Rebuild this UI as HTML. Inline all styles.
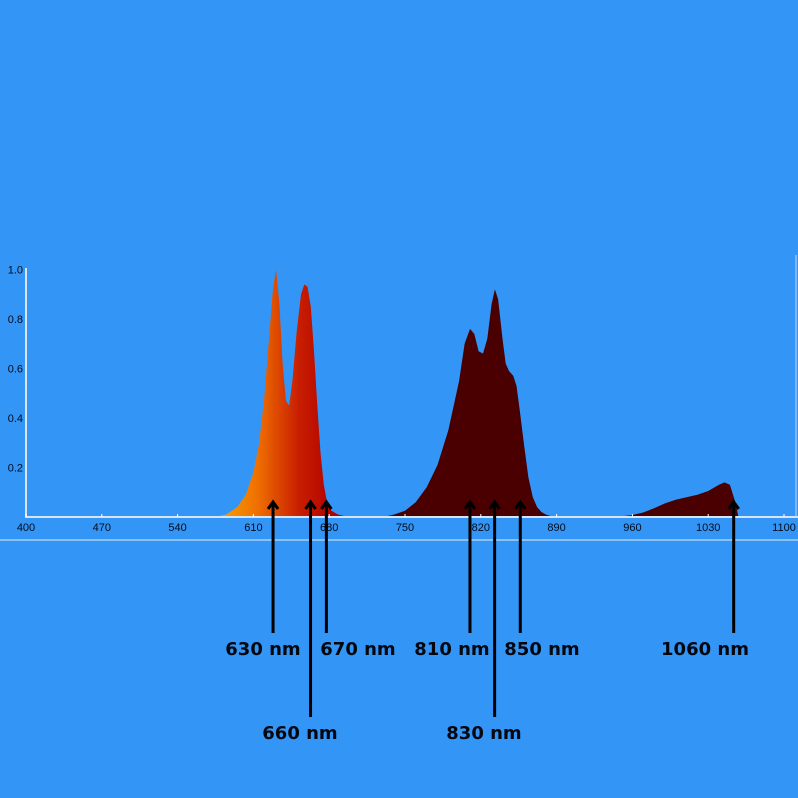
<!DOCTYPE html>
<html><head><meta charset="utf-8"><style>
body{margin:0;background:#3396f7;}
svg{display:block;font-family:"Liberation Sans",sans-serif;}
</style></head><body>
<svg id="c" width="798" height="798">
<defs>
<linearGradient id="g1" gradientUnits="userSpaceOnUse" x1="215" y1="0" x2="335" y2="0">
<stop offset="0" stop-color="#f7a800"/><stop offset="0.35" stop-color="#f07000"/><stop offset="0.7" stop-color="#c81e00"/><stop offset="1" stop-color="#b00000"/>
</linearGradient>
</defs>
</svg>
<script>
const redNm=[575,585,595,603,610,615,620,625,628,631,634,637,640,643,646,650,654,657,660,663,666,669,672,675,678,682,688,695,700];
const redVal=[0,0.01,0.04,0.09,0.18,0.29,0.48,0.75,0.92,1.0,0.86,0.62,0.47,0.45,0.55,0.75,0.9,0.94,0.93,0.85,0.67,0.45,0.26,0.13,0.06,0.025,0.01,0.003,0];
const nirNm=[730,740,750,760,770,780,790,800,805,810,814,818,822,826,830,833,836,840,843,846,850,853,856,860,864,868,872,876,880,885,890];
const nirVal=[0,0.01,0.025,0.06,0.12,0.21,0.35,0.55,0.7,0.76,0.74,0.67,0.66,0.72,0.86,0.92,0.88,0.72,0.62,0.59,0.57,0.53,0.43,0.29,0.16,0.08,0.04,0.02,0.01,0.003,0];
const ir2Nm=[945,960,970,980,990,1000,1010,1020,1030,1040,1045,1050,1055,1058];
const ir2Val=[0,0.008,0.018,0.035,0.055,0.07,0.08,0.09,0.105,0.13,0.14,0.13,0.06,0];
const xTicks=[400,470,540,610,680,750,820,890,960,1030,1100];
const yTicks=[0.2,0.4,0.6,0.8,1.0];
const markerNm=[630,660,670,810,830,850,1060];
const markerShift=[-2,3,8,0,3,7,-7];
const markerLabelX=[263,300,358,452,484,542,705];
const markerLow=[false,true,false,false,true,false,false];

const X=nm=>26+(nm-400)*75.8/70;
const Y=v=>517-v*247.5;
const svg=document.getElementById('c');
const NS='http://www.w3.org/2000/svg';
function mk(t,a){const e=document.createElementNS(NS,t);for(const k in a)e.setAttribute(k,a[k]);svg.appendChild(e);return e;}
function area(nm,val,fill,name){
  let d='M'+X(nm[0])+','+Y(0);
  nm.forEach((n,i)=>d+=' L'+X(n).toFixed(1)+','+Y(val[i]).toFixed(1));
  d+=' L'+X(nm[nm.length-1])+','+Y(0)+'Z';
  const p=mk('path',{d:d,fill:fill});
  
  
}
area(redNm,redVal,'url(#g1)','red-band-area');
area(nirNm,nirVal,'#4a0000','nir-band-area');
area(ir2Nm,ir2Val,'#4a0000','ir-1060-band-area');
let a=mk('line',{x1:26,y1:268,x2:26,y2:518,stroke:'#d8e4f0','stroke-width':2});


a=mk('line',{x1:25,y1:517,x2:798,y2:517,stroke:'#d8e4f0','stroke-width':2});


a=mk('line',{x1:0,y1:540,x2:798,y2:540,stroke:'#a8d0f8','stroke-width':1.5});


a=mk('line',{x1:796,y1:255,x2:796,y2:517,stroke:'#c0d8f0','stroke-width':1});


xTicks.forEach(t=>{
  const l=mk('line',{x1:X(t),y1:514,x2:X(t),y2:517,stroke:'#fff'});
  
  
  const tx=mk('text',{x:X(t),y:531,'font-size':11,'text-anchor':'middle',fill:'#050a18'});
  tx.textContent=t;
  
  
});
yTicks.forEach(t=>{
  const tx=mk('text',{x:23,y:Y(t)+4,'font-size':11,'text-anchor':'end',fill:'#050a18'});
  tx.textContent=t.toFixed(1);
  
  
});
markerNm.forEach((n,i)=>{
  const x=X(n)+markerShift[i], low=markerLow[i];
  const y2=low?717:633;
  const l=mk('path',{d:`M${x},${y2} L${x},502 M${x-5},509 L${x},502 L${x+5},509`,stroke:'#000','stroke-width':3,fill:'none'});
  
  
  const tx=mk('text',{x:markerLabelX[i],y:low?739:655,'font-size':18,'font-weight':'bold','text-anchor':'middle',fill:'#05070f','font-family':'"DejaVu Sans",sans-serif'});
  tx.textContent=n+' nm';
  
  
});
</script>
</body></html>
